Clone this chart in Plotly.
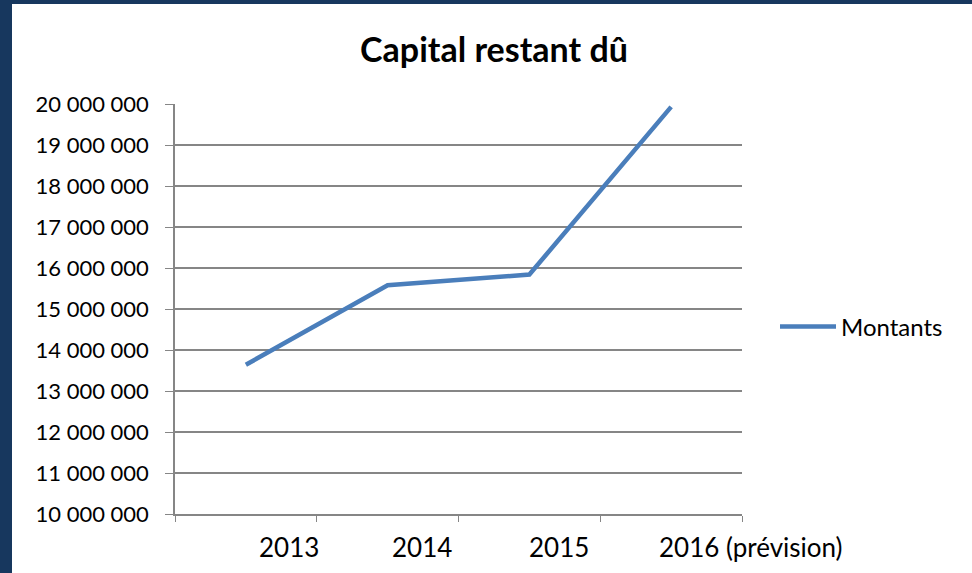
import plotly.graph_objects as go

categories = ["2013", "2014", "2015", "2016 (prévision)"]
montants = [13640000, 15580000, 15840000, 19930000]
y_ticks = [10000000, 11000000, 12000000, 13000000, 14000000, 15000000,
           16000000, 17000000, 18000000, 19000000, 20000000]
label_shift = [11, 2, -2, -14]

FONT = "Lato"
W, H = 972, 573
L, R, T, B = 175, 230, 104, 59
pw, ph = W - L - R, H - T - B

fig = go.Figure()
fig.add_trace(go.Scatter(
    x=categories, y=montants, mode="lines", name="Montants",
    line=dict(color="#4A7EBB", width=4.5),
))

fig.update_layout(
    width=W, height=H,
    margin=dict(l=L, r=R, t=T, b=B, pad=0),
    paper_bgcolor="white", plot_bgcolor="white",
    separators=", ",
    font=dict(family=FONT, size=22, color="black"),
    title=dict(text="<b>Capital restant dû</b>", x=494 / W, xanchor="center",
               y=1 - 50 / H, yanchor="middle", font=dict(size=34, family=FONT)),
    showlegend=True,
    legend=dict(x=(775 - L) / pw, y=(514 - 327) / ph, xanchor="left", yanchor="middle",
                font=dict(size=24, family=FONT), itemwidth=56, bgcolor="rgba(0,0,0,0)"),
    xaxis=dict(
        type="category", range=[-0.5, 3.5], showgrid=False,
        showline=True, linecolor="#868686", linewidth=1.5,
        ticks="outside", tickson="boundaries", ticklen=6, tickcolor="#868686",
        showticklabels=False, zeroline=False,
    ),
    yaxis=dict(
        range=[10000000, 20000000], tickvals=y_ticks, tickformat=",d",
        showgrid=True, gridcolor="#868686", gridwidth=1.5,
        showline=True, linecolor="#868686", linewidth=1.5,
        ticks="outside", ticklen=8, tickcolor="#868686",
        zeroline=False, ticklabelstandoff=12,
        tickfont=dict(size=22, family=FONT),
    ),
)

for i, (cat, sh) in enumerate(zip(categories, label_shift)):
    fig.add_annotation(x=i, xref="x", y=(514 - 547) / ph, yref="paper",
                       text=cat, showarrow=False, xanchor="left", yanchor="middle",
                       xshift=sh, font=dict(size=26, family=FONT))

# dark frame on left and top
fig.add_shape(type="rect", xref="paper", yref="paper",
              x0=-L / pw, x1=(12 - L) / pw, y0=-B / ph, y1=1 + T / ph,
              fillcolor="#17375E", line=dict(width=0), layer="above")
fig.add_shape(type="rect", xref="paper", yref="paper",
              x0=-L / pw, x1=1 + R / pw, y0=1 + (T - 4) / ph, y1=1 + T / ph,
              fillcolor="#17375E", line=dict(width=0), layer="above")

fig.write_html("out.html", config={"displayModeBar": False},
               post_script="document.body.style.margin='0';")
